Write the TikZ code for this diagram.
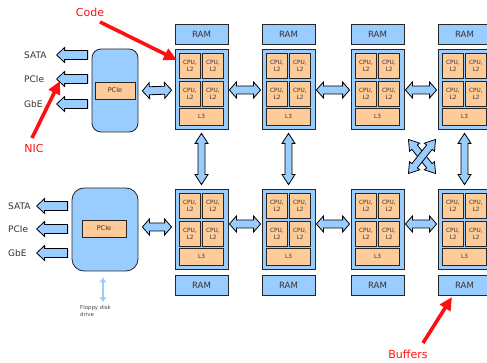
\documentclass[tikz,border=0pt]{standalone}
\usepackage{fontspec}
\setmainfont{DejaVu Sans}
\usetikzlibrary{calc,arrows.meta}

\definecolor{boxblue}{HTML}{99CCFF}
\definecolor{cpuorange}{HTML}{FFCC99}
\definecolor{edge}{HTML}{262626}
\definecolor{ink}{HTML}{333333}
\definecolor{note}{HTML}{FF1010}

\tikzset{
  % geometry of the block arrows: head length / head half width / shaft half width
  ahead/.code args={#1/#2/#3}{\def\arrHL{#1}\def\arrHW{#2}\def\arrSW{#3}},
  ahead=7pt/8pt/4pt,
  blockdbl/.style={to path={let \p1=(\tikztostart), \p2=(\tikztotarget),
      \n1={atan2(\y2-\y1,\x2-\x1)} in
    (\p1) -- ($(\p1)+(\n1:\arrHL)+(\n1+90:\arrHW)$)
          -- ($(\p1)+(\n1:\arrHL)+(\n1+90:\arrSW)$)
          -- ($(\p2)+(\n1:-\arrHL)+(\n1+90:\arrSW)$)
          -- ($(\p2)+(\n1:-\arrHL)+(\n1+90:\arrHW)$)
          -- (\p2)
          -- ($(\p2)+(\n1:-\arrHL)+(\n1-90:\arrHW)$)
          -- ($(\p2)+(\n1:-\arrHL)+(\n1-90:\arrSW)$)
          -- ($(\p1)+(\n1:\arrHL)+(\n1-90:\arrSW)$)
          -- ($(\p1)+(\n1:\arrHL)+(\n1-90:\arrHW)$)
          -- cycle}},
  blocksgl/.style={to path={let \p1=(\tikztostart), \p2=(\tikztotarget),
      \n1={atan2(\y2-\y1,\x2-\x1)} in
    ($(\p1)+(\n1+90:\arrSW)$)
          -- ($(\p2)+(\n1:-\arrHL)+(\n1+90:\arrSW)$)
          -- ($(\p2)+(\n1:-\arrHL)+(\n1+90:\arrHW)$)
          -- (\p2)
          -- ($(\p2)+(\n1:-\arrHL)+(\n1-90:\arrHW)$)
          -- ($(\p2)+(\n1:-\arrHL)+(\n1-90:\arrSW)$)
          -- ($(\p1)+(\n1-90:\arrSW)$)
          -- cycle}},
  barrow/.style={draw=black, fill=boxblue, line width=0.8pt, line join=miter},
  sock/.style={draw=edge, fill=boxblue, line width=0.8pt, minimum width=53pt,
    minimum height=80pt, inner sep=0pt},
  ram/.style={draw=edge, fill=boxblue, line width=0.8pt, minimum width=53pt,
    minimum height=20pt, inner sep=0pt, text=ink, font=\fontsize{8.6}{10}\selectfont},
  cpu/.style={draw=edge, fill=cpuorange, line width=0.8pt, minimum width=21pt,
    minimum height=25pt, inner sep=0pt, align=center, text=ink,
    font=\fontsize{5.8}{6.8}\selectfont},
  lthree/.style={cpu, minimum width=44pt, minimum height=17pt},
  hub/.style={draw=edge, fill=boxblue, line width=0.8pt, inner sep=0pt},
  pcibox/.style={draw=edge, fill=cpuorange, line width=0.8pt, inner sep=0pt,
    text=ink, font=\fontsize{6.5}{7}\selectfont},
  iolabel/.style={anchor=west, inner sep=0pt, text=ink, font=\fontsize{9}{10}\selectfont},
  remark/.style={inner sep=0pt, text=note, font=\fontsize{11}{12}\selectfont},
  redarrow/.style={draw=note, line width=3.6pt,
    -{Triangle[length=13pt,width=12pt]}},
}

% one processor socket: box, four cores and the shared L3
\newcommand\sockunit[3]{%
  \node[sock] (#1) at (#2,#3) {};
  \node[cpu] (#1c1) at ($(#1)+(-11.5,-23.5)$) {CPU,\\L2};
  \node[cpu] (#1c2) at ($(#1)+(11.5,-23.5)$) {CPU,\\L2};
  \node[cpu] (#1c3) at ($(#1)+(-11.5,4.5)$) {CPU,\\L2};
  \node[cpu] (#1c4) at ($(#1)+(11.5,4.5)$) {CPU,\\L2};
  \node[lthree] (#1l3) at ($(#1)+(0,27.5)$) {L3};
}

\begin{document}
\begin{tikzpicture}[x=1pt, y=-1pt]
\useasboundingbox (0,0) rectangle (487,363);

% sockets and memory
\foreach \c/\x in {1/201.5, 2/288.5, 3/377.5, 4/464.5} {
  \node[ram] (r\c t) at (\x,34) {RAM};
  \sockunit{s\c t}{\x}{89}
  \sockunit{s\c b}{\x}{229}
  \node[ram] (r\c b) at (\x,285.5) {RAM};
}

% I/O hubs
\node[hub, rounded corners=9pt, minimum width=46pt, minimum height=83pt] (hubT) at (115,90.5) {};
\node[pcibox, minimum width=40pt, minimum height=17pt] (pciT) at (115,90.5) {PCIe};
\node[hub, rounded corners=12pt, minimum width=66pt, minimum height=83pt] (hubB) at (105,229.5) {};
\node[pcibox, minimum width=44pt, minimum height=17pt] (pciB) at (104,228.5) {PCIe};

% links between sockets
\foreach \a/\b in {1/2, 2/3, 3/4} {
  \draw[barrow] ([xshift=1pt,yshift=-1pt]s\a t.east) to[blockdbl] ([xshift=-1pt,yshift=-1pt]s\b t.west);
  \draw[barrow] ([xshift=1pt,yshift=5pt]s\a b.east) to[blockdbl] ([xshift=-1pt,yshift=5pt]s\b b.west);
}
\draw[barrow] ([xshift=4pt,yshift=-0.5pt]hubT.east) to[blockdbl] ([xshift=-3pt,yshift=-1pt]s1t.west);
\draw[barrow] ([xshift=4pt,yshift=2.5pt]hubB.east) to[blockdbl] ([xshift=-3pt,yshift=2pt]s1b.west);

\begin{scope}[ahead=10pt/6.5pt/3.5pt]
  \foreach \c in {1, 2, 4}
    \draw[barrow] ([yshift=-4pt]s\c t.south) to[blockdbl] ([yshift=4pt]s\c b.north);
  \coordinate (xa1) at ($(s3t.south east)+(4,10)$);
  \coordinate (xa2) at ($(s4b.north west)+(-2,-15)$);
  \coordinate (xb1) at ($(s4t.south west)+(-2,10)$);
  \coordinate (xb2) at ($(s3b.north east)+(4,-15)$);
  \draw[barrow] (xa1) to[blockdbl] (xa2);
  \draw[barrow] (xb1) to[blockdbl] (xb2);
\end{scope}

% external interfaces
\begin{scope}[ahead=8pt/7.5pt/4.5pt]
  \foreach \y/\t [count=\i] in {55/SATA, 79/PCIe, 104/GbE} {
    \draw[barrow] ($(hubT.west)+(-4,\y-90.5)$) to[blocksgl] ($(hubT.west)+(-35,\y-90.5)$);
    \node[iolabel] (ioT\i) at (24,\y) {\t};
  }
  \foreach \y/\t [count=\i] in {206/SATA, 229/PCIe, 253/GbE} {
    \draw[barrow] ($(hubB.west)+(-4,\y-229.5)$) to[blocksgl] ($(hubB.west)+(-35,\y-229.5)$);
    \node[iolabel] (ioB\i) at (8,\y) {\t};
  }
\end{scope}

% floppy drive link
\coordinate (floppy) at (103,302);
\draw[boxblue, line width=1.4pt, {Triangle[length=5pt,width=6pt]}-{Triangle[length=5pt,width=6pt]}]
  ([xshift=-2pt,yshift=-6pt]hubB.south) -- (floppy);
\node[anchor=north west, align=left, inner sep=0pt, text=ink!90,
  font=\fontsize{5.4}{7}\selectfont] (floppytxt) at (80,305) {Floppy disk\\drive};

% annotations
\node[remark] (code) at (90,12) {Code};
\node[remark] (nic) at (34,148) {NIC};
\node[remark] (buf) at (408,354) {Buffers};
\coordinate (codeTail) at (100,22);
\coordinate (codeTip) at (177,60);
\coordinate (nicTail) at (32,138);
\coordinate (nicTip) at (60,81);
\coordinate (bufTail) at (423,343);
\coordinate (bufTip) at (452,297);
\draw[redarrow] (codeTail) -- (codeTip);
\draw[redarrow] (nicTail) -- (nicTip);
\draw[redarrow] (bufTail) -- (bufTip);
\end{tikzpicture}
\end{document}
